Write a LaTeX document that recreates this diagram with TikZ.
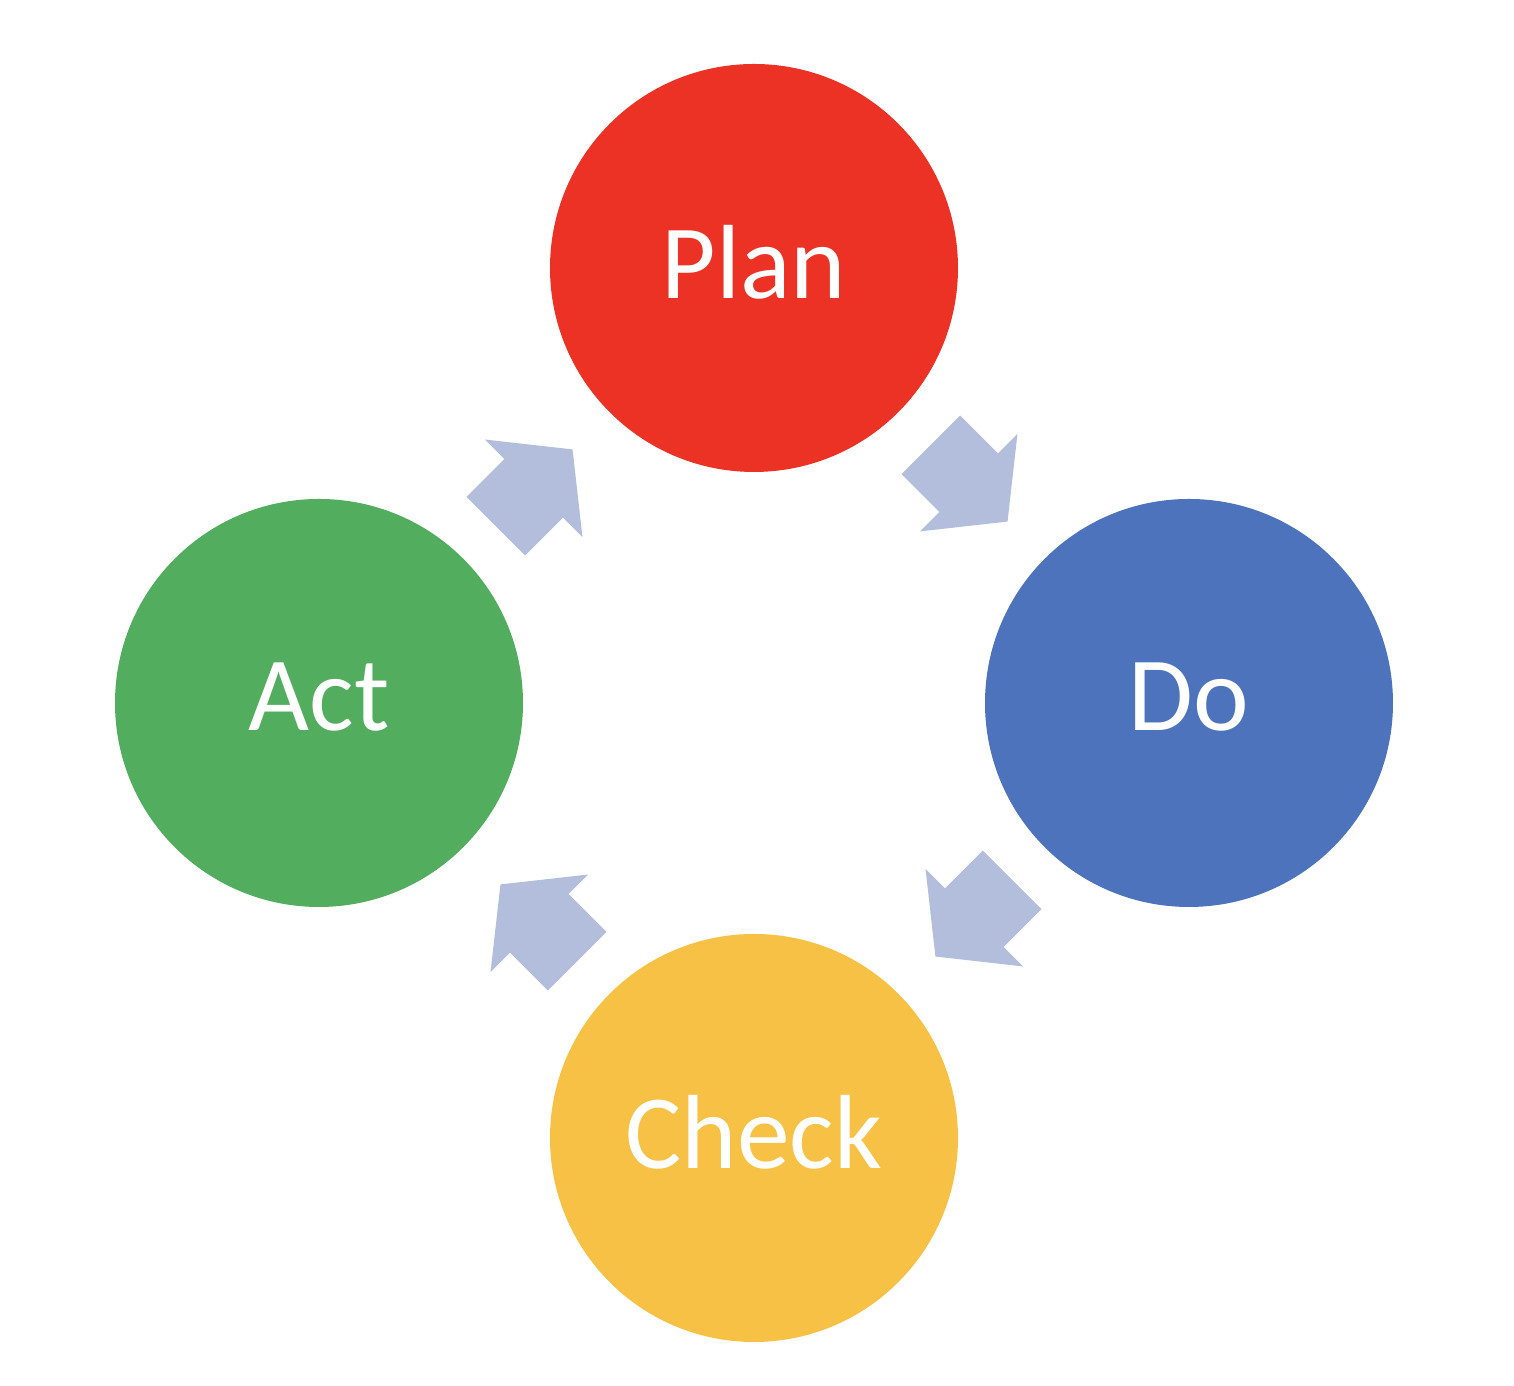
\documentclass[tikz,border=0pt]{standalone}
\usepackage{fontspec}
\setmainfont{Carlito}
\usepackage{tikz}
\definecolor{plancol}{RGB}{236,50,36}
\definecolor{docol}{RGB}{76,115,188}
\definecolor{checkcol}{RGB}{246,193,68}
\definecolor{actcol}{RGB}{82,173,94}
\definecolor{flowcol}{RGB}{178,190,219}

\begin{document}
\begin{tikzpicture}[
    phase/.style={circle, minimum size=4.08cm, inner sep=0pt, text=white,
                  text depth=0.12cm, font=\fontsize{30}{36}\selectfont},
    flow/.style={fill=flowcol}
]
    \useasboundingbox (0,0) rectangle (15.14,13.86);

    % The four phases
    \node[phase, fill=plancol]  (plan)  at (7.54,11.18) {Plan};
    \node[phase, fill=docol]    (do)    at (11.89,6.83) {Do};
    \node[phase, fill=checkcol] (check) at (7.54,2.48)  {Check};
    \node[phase, fill=actcol]   (act)   at (3.19,6.83)  {Act};

    % Block arrows half way between the phases
    \path (plan) -- (do)    coordinate[pos=0.5] (pd);
    \path (do) -- (check)   coordinate[pos=0.5] (dc);
    \path (check) -- (act)  coordinate[pos=0.5] (ca);
    \path (act) -- (plan)   coordinate[pos=0.5] (ap);

    \foreach \spot/\angle in {pd/-45, dc/-135, ca/135, ap/45} {
        \fill[flow, shift={(\spot)}, rotate=\angle]
            (-0.575,-0.415) -- (-0.04,-0.415) -- (-0.04,-0.69) -- (0.51,0)
            -- (-0.04,0.69) -- (-0.04,0.415) -- (-0.575,0.415) -- cycle;
    }
\end{tikzpicture}
\end{document}
